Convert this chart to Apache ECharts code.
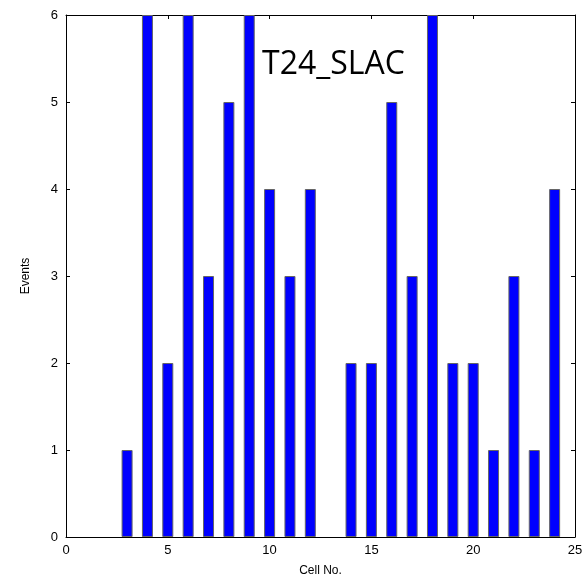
<!DOCTYPE html>
<html><head><meta charset="utf-8">
<script src="https://cdn.jsdelivr.net/npm/echarts@6/dist/echarts.min.js"></script>
<style>html,body{margin:0;padding:0;background:#fff}#c{width:583px;height:578px}</style>
</head><body><div id="c"></div>
<script>
var cells = [3,4,5,6,7,8,9,10,11,12,13,14,15,16,17,18,19,20,21,22,23,24];
var events = [1,6,2,6,3,5,6,4,3,4,0,2,2,5,3,6,2,2,1,3,1,4];
var xTicks = [0,5,10,15,20,25];
var yTicks = [0,1,2,3,4,5,6];
var chart = echarts.init(document.getElementById('c'));
var font = 'Liberation Sans, Arial, sans-serif';
var axisLine = {show:true, onZero:false, lineStyle:{color:'#000', width:1}};
var barData = [];
cells.forEach(function(c,i){ if (events[i] > 0) barData.push([c, events[i]]); });
chart.setOption({
  animation:false,
  grid:{left:66, right:8, top:15, bottom:41, containLabel:false, outerBoundsMode:'none'},
  title:{text:'T24_SLAC', left:257, top:44, textStyle:{fontFamily:'Open Sans, Noto Sans, sans-serif', fontWeight:'normal', fontSize:32, color:'#000'}},
  xAxis:[
    {type:'value', min:xTicks[0], max:xTicks[xTicks.length-1], interval:5, name:'Cell No.', nameLocation:'middle', nameGap:28,
     nameTextStyle:{fontFamily:font, fontSize:12, color:'#000'},
     axisLine:axisLine, axisTick:{show:true, inside:true, length:4, lineStyle:{color:'#000'}},
     axisLabel:{fontFamily:font, fontSize:13, color:'#000', margin:7}, splitLine:{show:false}},
    {type:'value', position:'top', min:0, max:25, interval:5,
     axisLine:axisLine, axisTick:{show:true, inside:true, length:4, lineStyle:{color:'#000'}},
     axisLabel:{show:false}, splitLine:{show:false}}
  ],
  yAxis:[
    {type:'value', min:yTicks[0], max:yTicks[yTicks.length-1], interval:1, name:'Events', nameLocation:'middle', nameGap:34,
     nameTextStyle:{fontFamily:font, fontSize:12, color:'#000'},
     axisLine:axisLine, axisTick:{show:true, inside:true, length:4, lineStyle:{color:'#000'}},
     axisLabel:{fontFamily:font, fontSize:13, color:'#000', margin:8}, splitLine:{show:false}},
    {type:'value', position:'right', min:0, max:6, interval:1,
     axisLine:axisLine, axisTick:{show:true, inside:true, length:4, lineStyle:{color:'#000'}},
     axisLabel:{show:false}, splitLine:{show:false}}
  ],
  series:[{
    type:'bar', xAxisIndex:0, yAxisIndex:0, barWidth:11,
    data: barData,
    itemStyle:{color:'#0000FF', borderColor:'#666', borderWidth:1}
  }]
});
</script></body></html>
